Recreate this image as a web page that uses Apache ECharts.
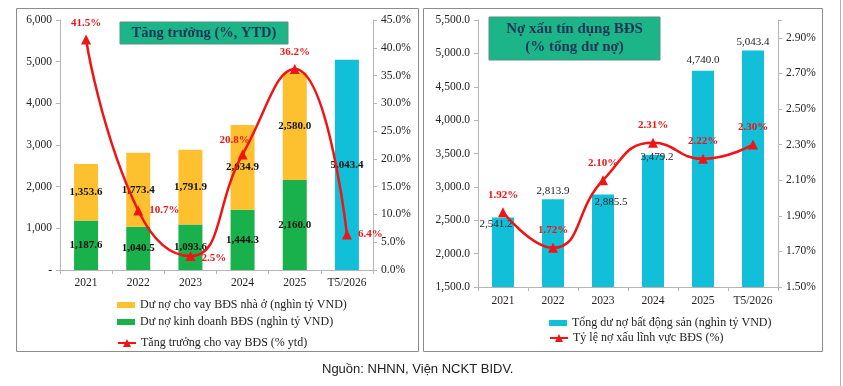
<!DOCTYPE html>
<html>
<head>
<meta charset="utf-8">
<script src="https://cdn.jsdelivr.net/npm/echarts@6/dist/echarts.min.js"></script>
<style>
  html, body { margin: 0; padding: 0; background: #fff; }
  #main { width: 843px; height: 386px; }
</style>
</head>
<body>
<div id="main"></div>
<script>
// dữ liệu
const years = ['2021', '2022', '2023', '2024', '2025', 'T5/2026'];
const housingLoans = [1353.6, 1773.4, 1791.9, 2034.9, 2580.0, null];
const businessLoans = [1187.6, 1040.5, 1093.6, 1444.3, 2160.0, null];
const latestTotal = [null, null, null, null, null, 5043.4];
const growthYtd = [41.5, 10.7, 2.5, 20.8, 36.2, 6.4];
const totalOutstanding = [2541.2, 2813.9, 2885.5, 3479.2, 4740.0, 5043.4];
const nplRatio = [1.92, 1.72, 2.10, 2.31, 2.22, 2.30];

// vị trí nhãn (chỉ để trình bày)
const growthLabelPos = ['top', 'right', 'right', 'top', 'top', 'right'];
const growthLabelOffset = [[0, 0], [0, 0], [0, 2], [-8, 2], [0, 0], [0, 0]];
const totalLabelOffset = [[-7, 17], [0, 2], [8, 18], [4, 13], [0, 0], [0, 2]];

const SERIF = '"Liberation Serif", "Times New Roman", serif';
const YELLOW = '#fdc12f';
const GREEN = '#19b14b';
const CYAN = '#12bfd9';
const RED = '#f01414';
const AXIS = '#b5b5b5';

const fmt1 = v => v.toLocaleString('en-US', { minimumFractionDigits: 1, maximumFractionDigits: 1 });

const chart = echarts.init(document.getElementById('main'));

const labelBase = { fontFamily: SERIF, fontSize: 11.5, color: '#222' };
const axisBase = {
  axisLine: { show: true, lineStyle: { color: AXIS } },
  axisTick: { show: true, length: 4, lineStyle: { color: AXIS } },
  splitLine: { show: false },
  axisLabel: labelBase
};
const legendText = { fontFamily: SERIF, fontSize: 12, color: '#222' };

const option = {
  animation: false,
  textStyle: { fontFamily: SERIF },
  grid: [
    { left: 60, top: 20, width: 313, height: 250 },
    { left: 478, top: 20, width: 300, height: 267 }
  ],
  xAxis: [
    Object.assign({}, axisBase, { type: 'category', gridIndex: 0, data: years,
      axisLabel: Object.assign({}, labelBase, { interval: 0, margin: 7 }) }),
    Object.assign({}, axisBase, { type: 'category', gridIndex: 1, data: years,
      axisLabel: Object.assign({}, labelBase, { interval: 0, margin: 8 }) })
  ],
  yAxis: [
    Object.assign({}, axisBase, { type: 'value', gridIndex: 0, min: 0, max: 6000, interval: 1000,
      axisLabel: Object.assign({}, labelBase, { formatter: v => v === 0 ? '-' : v.toLocaleString('en-US') }) }),
    Object.assign({}, axisBase, { type: 'value', gridIndex: 0, position: 'right', min: 0, max: 45, interval: 5,
      axisLabel: Object.assign({}, labelBase, { formatter: v => v.toFixed(1) + '%' }) }),
    Object.assign({}, axisBase, { type: 'value', gridIndex: 1, min: 1500, max: 5500, interval: 500,
      axisLabel: Object.assign({}, labelBase, { formatter: v => fmt1(v) }) }),
    Object.assign({}, axisBase, { type: 'value', gridIndex: 1, position: 'right', min: 1.5, max: 3.0, interval: 0.2,
      axisLabel: Object.assign({}, labelBase, { formatter: v => v > 2.95 ? '' : v.toFixed(2) + '%' }) })
  ],
  legend: [
    { orient: 'vertical', left: 112, top: 294, itemWidth: 18, itemHeight: 6, itemGap: 5, textStyle: legendText,
      data: [{ name: 'Dư nợ cho vay BĐS nhà ở (nghìn tỷ VND)', icon: 'rect' },
             { name: 'Dư nợ kinh doanh BĐS (nghìn tỷ VND)', icon: 'rect' }] },
    { orient: 'vertical', left: 112, top: 332, itemWidth: 18, itemHeight: 10, textStyle: legendText,
      data: ['Tăng trưởng cho vay BĐS (% ytd)'] },
    { orient: 'vertical', left: 544, top: 312, itemWidth: 18, itemHeight: 6, textStyle: legendText,
      data: [{ name: 'Tổng dư nợ bất động sản (nghìn tỷ VND)', icon: 'rect' }] },
    { orient: 'vertical', left: 544, top: 327, itemWidth: 18, itemHeight: 10, textStyle: legendText,
      data: ['Tỷ lệ nợ xấu lĩnh vực BĐS (%)'] }
  ],
  series: [
    {
      name: 'Dư nợ kinh doanh BĐS (nghìn tỷ VND)', type: 'bar', stack: 'left',
      xAxisIndex: 0, yAxisIndex: 0, barWidth: 24, data: businessLoans,
      itemStyle: { color: GREEN },
      label: { show: true, position: 'inside', color: '#111', fontWeight: 'bold', fontSize: 11, formatter: p => fmt1(p.value) }
    },
    {
      name: 'Dư nợ cho vay BĐS nhà ở (nghìn tỷ VND)', type: 'bar', stack: 'left',
      xAxisIndex: 0, yAxisIndex: 0, barWidth: 24, data: housingLoans,
      itemStyle: { color: YELLOW },
      label: { show: true, position: 'inside', color: '#111', fontWeight: 'bold', fontSize: 11, formatter: p => fmt1(p.value) }
    },
    {
      name: 'Tổng T5/2026', type: 'bar', stack: 'left',
      xAxisIndex: 0, yAxisIndex: 0, barWidth: 24, data: latestTotal,
      itemStyle: { color: CYAN },
      label: { show: true, position: 'inside', color: '#111', fontWeight: 'bold', fontSize: 11, formatter: p => fmt1(p.value) }
    },
    {
      name: 'Tăng trưởng cho vay BĐS (% ytd)', type: 'line', smooth: 0.5,
      xAxisIndex: 0, yAxisIndex: 1, z: 5,
      symbol: 'triangle', symbolSize: 10,
      lineStyle: { color: RED, width: 2.5 }, itemStyle: { color: RED },
      data: growthYtd.map((v, i) => ({
        value: v,
        label: { position: growthLabelPos[i], offset: growthLabelOffset[i] }
      })),
      label: { show: true, color: RED, fontWeight: 'bold', fontSize: 11, distance: 6, formatter: p => p.value.toFixed(1) + '%' }
    },
    {
      name: 'Tổng dư nợ bất động sản (nghìn tỷ VND)', type: 'bar',
      xAxisIndex: 1, yAxisIndex: 2, barWidth: 22,
      itemStyle: { color: CYAN },
      data: totalOutstanding.map((v, i) => ({ value: v, label: { offset: totalLabelOffset[i] } })),
      label: { show: true, position: 'top', color: '#222', fontSize: 11, formatter: p => fmt1(p.value) }
    },
    {
      name: 'Tỷ lệ nợ xấu lĩnh vực BĐS (%)', type: 'line', smooth: 0.5,
      xAxisIndex: 1, yAxisIndex: 3, z: 5,
      symbol: 'triangle', symbolSize: 10,
      lineStyle: { color: RED, width: 2.5 }, itemStyle: { color: RED },
      data: nplRatio,
      label: { show: true, position: 'top', distance: 7, color: RED, fontWeight: 'bold', fontSize: 11, formatter: p => p.value.toFixed(2) + '%' }
    }
  ],
  graphic: [
    { type: 'rect', z: -1, shape: { x: 16.5, y: 8.5, width: 402, height: 343 }, style: { fill: 'none', stroke: '#8c8c8c', lineWidth: 1 } },
    { type: 'rect', z: -1, shape: { x: 423.5, y: 8.5, width: 399, height: 343 }, style: { fill: 'none', stroke: '#8c8c8c', lineWidth: 1 } },
    { type: 'line', z: -1, shape: { x1: 840.5, y1: 0, x2: 840.5, y2: 386 }, style: { stroke: '#b0b0b0', lineWidth: 1 } },
    { type: 'rect', z: 10, shape: { x: 120, y: 22, width: 168, height: 22 }, style: { fill: '#1cb588', stroke: '#5a8f7c', lineWidth: 1 } },
    { type: 'text', z: 11, x: 204, y: 33, style: { text: 'Tăng trưởng (%, YTD)', font: 'bold 14.5px ' + SERIF, fill: '#1f3558', align: 'center', verticalAlign: 'middle' } },
    { type: 'rect', z: 10, shape: { x: 489, y: 17, width: 171, height: 43 }, style: { fill: '#1cb588', stroke: '#5a8f7c', lineWidth: 1 } },
    { type: 'text', z: 11, x: 574.5, y: 38.5, style: { text: 'Nợ xấu tín dụng BĐS\n(% tổng dư nợ)', font: 'bold 15px ' + SERIF, fill: '#1f3558', align: 'center', verticalAlign: 'middle', lineHeight: 18 } },
    { type: 'text', x: 322, y: 363, style: { text: 'Nguồn: NHNN, Viện NCKT BIDV.', font: '13px "Liberation Sans", Arial, sans-serif', fill: '#222' } }
  ]
};

chart.setOption(option);
</script>
</body>
</html>
